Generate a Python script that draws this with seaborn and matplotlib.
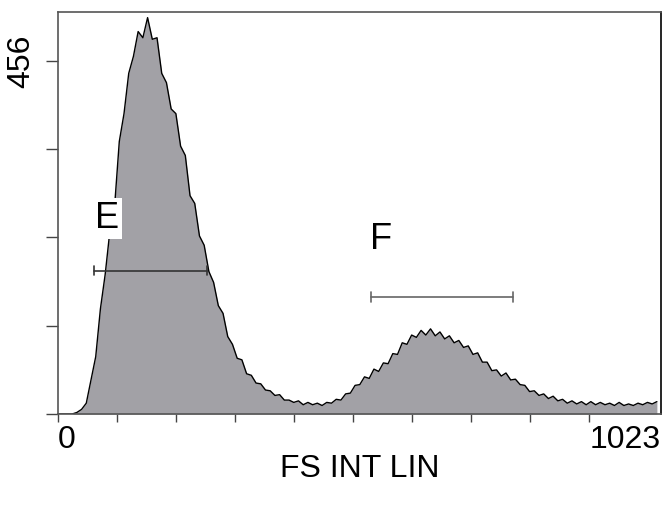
import numpy as np
import pandas as pd
import matplotlib
matplotlib.use('Agg')
import matplotlib.pyplot as plt
import seaborn as sns

# channel positions (every 8th channel of 1024) and counts
channels = list(range(0, 1024, 8))
counts = [0, 0, 0, 0, 2, 6, 14, 44, 74, 136, 180, 236, 268, 352, 388, 440,
          462, 494, 486, 512, 484, 486, 440, 428, 394, 388, 346, 334, 282, 272, 230, 218,
          184, 170, 140, 130, 100, 90, 72, 70, 52, 50, 40, 39, 31, 30, 24, 25,
          18, 18, 15, 17, 12, 15, 12, 14, 11, 15, 14, 19, 18, 26, 27, 37,
          38, 48, 46, 58, 55, 66, 65, 78, 77, 92, 90, 102, 99, 108, 102, 110,
          101, 106, 97, 101, 92, 95, 86, 88, 77, 79, 67, 67, 56, 57, 49, 53,
          44, 45, 38, 37, 29, 30, 24, 26, 20, 23, 17, 19, 14, 17, 13, 16,
          12, 16, 12, 15, 12, 14, 11, 15, 11, 13, 11, 14, 12, 15, 13, 16]

# gates: name, start channel, end channel, height, label position
gate_names = ['E', 'F']
gate_start = [61, 531]
gate_end = [253, 772]
gate_level = [185, 151]
label_x = [83, 548]
label_y = [253, 225]

y_ticks = [0, 114, 228, 342, 456]
x_ticks = list(range(0, 1000, 100))

hist = pd.DataFrame({'channel': channels, 'count': counts})

sns.set_style('white')
plt.rcParams['font.family'] = ['Liberation Sans', 'DejaVu Sans']
plt.rcParams['text.color'] = 'black'
plt.rcParams['axes.labelcolor'] = 'black'

fig = plt.figure(figsize=(6.65, 5.08), dpi=100)
ax = fig.add_axes([0.0872, 0.185, 0.9068, 0.791])

ax.fill_between(hist['channel'], hist['count'], color='#a2a1a6', lw=0)
sns.lineplot(data=hist, x='channel', y='count', color='black', lw=1.0, ax=ax)

for name, s, e, lvl, lx, ly in zip(gate_names, gate_start, gate_end, gate_level, label_x, label_y):
    col = '#333333' if name == 'E' else '#666666'
    ax.plot([s, e], [lvl, lvl], color=col, lw=1.2)
    ax.plot([s, s], [lvl - 6, lvl + 6], color=col, lw=1.2)
    ax.plot([e, e], [lvl - 6, lvl + 6], color=col, lw=1.2)
    box = dict(facecolor='white', edgecolor='none', pad=2) if name == 'E' else None
    ax.text(lx, ly, name, fontsize=26, ha='center', va='center', color='black', bbox=box)

ax.set_xlim(0, 1023)
ax.set_ylim(0, 519)
ax.set_xticks(x_ticks)
ax.set_xticklabels([''] * len(x_ticks))
ax.set_yticks(y_ticks)
ax.set_yticklabels(['', '', '', '', '456'], rotation=90, va='center', fontsize=23)
ax.tick_params(axis='y', direction='out', length=9, width=1, color='#444444',
               labelcolor='black', pad=7, left=True)
ax.tick_params(axis='x', direction='out', length=6, width=1, color='#444444', bottom=True)

ax.text(0, -0.027, '0', ha='left', va='top', fontsize=23, color='black',
        transform=ax.get_xaxis_transform())
ax.text(1023, -0.027, '1023', ha='right', va='top', fontsize=23, color='black',
        transform=ax.get_xaxis_transform())

ax.set_xlabel('FS INT LIN', fontsize=23, labelpad=19, color='black')
ax.set_ylabel('')

for side in ['left', 'bottom', 'top', 'right']:
    ax.spines[side].set_visible(True)
    ax.spines[side].set_color('#555555')
    ax.spines[side].set_linewidth(1.2)
ax.spines['right'].set_color('black')

fig.savefig('out.png', dpi=100)
